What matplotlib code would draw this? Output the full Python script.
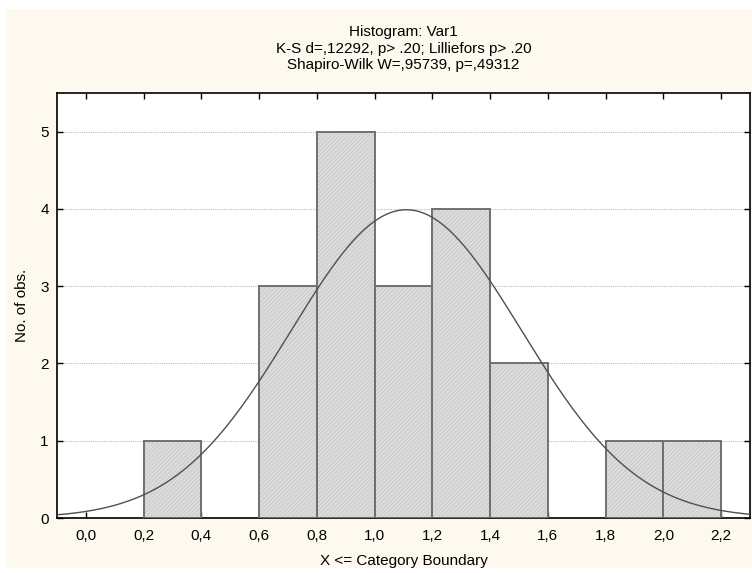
import numpy as np
import matplotlib
matplotlib.use('Agg')
import matplotlib.pyplot as plt
from matplotlib.patches import Rectangle

# Histogram data (bin left edges, width 0.2)
bin_left = [0.2, 0.6, 0.8, 1.0, 1.2, 1.4, 1.8, 2.0]
counts = [1, 3, 5, 3, 4, 2, 1, 1]
bin_width = 0.2
n_obs = 20
# fitted normal
mu = 1.11
sigma = 0.40

x_ticks = [0.0, 0.2, 0.4, 0.6, 0.8, 1.0, 1.2, 1.4, 1.6, 1.8, 2.0, 2.2]
x_labels = ['0,0', '0,2', '0,4', '0,6', '0,8', '1,0', '1,2', '1,4', '1,6', '1,8', '2,0', '2,2']
y_ticks = [0, 1, 2, 3, 4, 5]

title_lines = ['Histogram: Var1',
               'K-S d=,12292, p> .20; Lilliefors p> .20',
               'Shapiro-Wilk W=,95739, p=,49312']

plt.rcParams['font.family'] = ['Liberation Sans', 'DejaVu Sans']
plt.rcParams['hatch.linewidth'] = 0.5

W, H = 752, 573
fig = plt.figure(figsize=(W / 100, H / 100), dpi=100, facecolor='white')

# cream background panel
fig.patches.append(Rectangle((6 / W, 1 - 568 / H), 1 - 6 / W, (568 - 9) / H,
                             transform=fig.transFigure, facecolor='#fdf9ee',
                             edgecolor='none', zorder=-10))

ax = fig.add_axes([57 / W, 1 - 518 / H, (750 - 57) / W, (518 - 93) / H])
ax.set_facecolor('white')

# bars: hatch fill then outline
ax.bar(bin_left, counts, width=bin_width, align='edge', color='#dcdcdc',
       hatch='////////', edgecolor='#c4c4c4', linewidth=0, zorder=2)
ax.bar(bin_left, counts, width=bin_width, align='edge', fill=False,
       edgecolor='#707070', linewidth=1.4, zorder=3)

# normal curve
xs = np.linspace(-0.1, 2.3, 400)
ys = n_obs * bin_width / (sigma * np.sqrt(2 * np.pi)) * np.exp(-0.5 * ((xs - mu) / sigma) ** 2)
ax.plot(xs, ys, color='#505050', linewidth=1.0, zorder=4)

ax.set_xlim(-0.1, 2.3)
ax.set_ylim(0, 5.5)
ax.set_xticks(x_ticks)
ax.set_xticklabels(x_labels)
ax.set_yticks(y_ticks)
ax.tick_params(direction='in', length=4, width=1, top=True, right=True,
               labelsize=11, colors='black', pad=8)
ax.tick_params(axis='y', pad=6)
ax.grid(axis='y', linestyle=(0, (1, 1)), color='#bdbdbd', linewidth=0.8, zorder=1)
for s in ax.spines.values():
    s.set_linewidth(1.2)
    s.set_color('black')

ax.set_xlabel('X <= Category Boundary', fontsize=11, labelpad=8)
ax.set_ylabel('No. of obs.', fontsize=11, labelpad=8)

for i, line in enumerate(title_lines):
    fig.text(0.5 * (57 + 750) / W, 1 - (32 + i * 16.5) / H, line,
             ha='center', va='center', fontsize=11)

fig.savefig('out.png', dpi=100, facecolor='white')
